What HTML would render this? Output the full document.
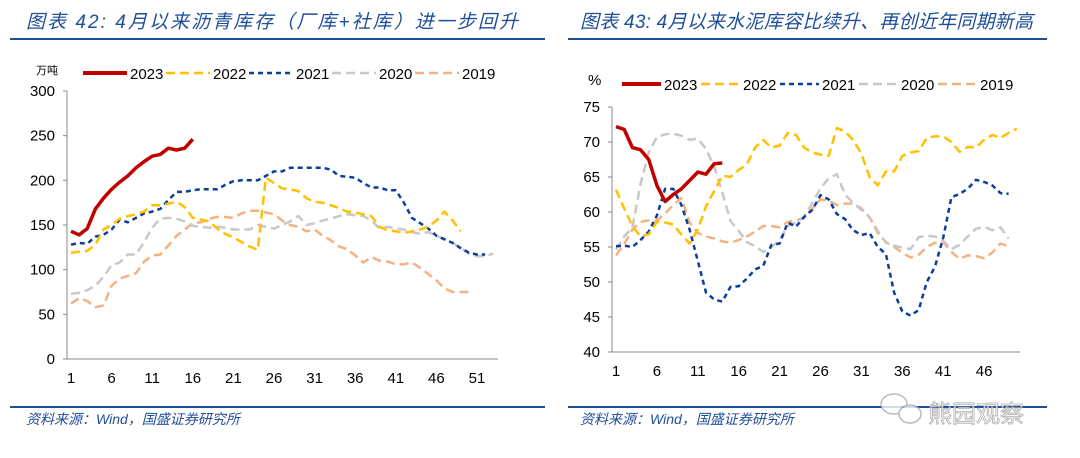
<!DOCTYPE html>
<html><head><meta charset="utf-8">
<style>
body{margin:0;background:#fff;width:1080px;height:458px;overflow:hidden;font-family:"Liberation Sans","Noto Sans CJK SC",sans-serif;}
svg{display:block}
</style></head>
<body>
<svg id="root" width="1080" height="458" xmlns="http://www.w3.org/2000/svg">
<g>
<text x="26" y="28" font-size="19" font-style="italic" fill="#1f4e9a" textLength="492" lengthAdjust="spacing">图表 42:  4月以来沥青库存（厂库+社库）进一步回升</text>
<rect x="10" y="38" width="535" height="2" fill="#1f4e9a"/>
</g>
<g>
<text x="580" y="28" font-size="19" font-style="italic" fill="#1f4e9a" textLength="453" lengthAdjust="spacing">图表 43:  4月以来水泥库容比续升、再创近年同期新高</text>
<rect x="568" y="38" width="479" height="2" fill="#1f4e9a"/>
</g>
<rect x="10" y="406" width="535" height="2" fill="#1f4e9a"/>
<rect x="568" y="406" width="479" height="2" fill="#1f4e9a"/>
<text x="26" y="424" font-size="14" font-style="italic" fill="#1f4e9a">资料来源：Wind，国盛证券研究所</text>
<text x="580" y="424" font-size="14" font-style="italic" fill="#1f4e9a">资料来源：Wind，国盛证券研究所</text>
<g opacity="0.8">
<ellipse cx="894" cy="404" rx="13" ry="10" fill="#fff" stroke="#aaa" stroke-width="1.5"/>
<ellipse cx="910" cy="414" rx="11" ry="9" fill="#fff" stroke="#aaa" stroke-width="1.5"/>
<text x="928" y="422" font-size="24" fill="#fff" stroke="#999" stroke-width="0.8">熊园观察</text>
</g>
<g id="c1"></g>
<g id="c2"></g>
</svg>
<script>
const years=["2023","2022","2021","2020","2019"];
const colors=["#c00000","#ffc000","#0b3f99","#c8c8c8","#f4b183"];
const dashes=[null,"9,5","5,4","9,5","9,5"];
const a2023=[143,139,146,168,180,190,198,205,214,221,227,229,236,234,236,246];
const a2022=[119,120,121,128,145,150,157,160,162,165,172,172,174,176,170,158,156,154,146,140,136,131,126,122,203,197,191,190,188,180,176,175,172,169,165,164,162,160,148,144,143,141,143,145,148,155,165,155,143];
const a2021=[128,130,129,137,139,145,156,153,158,163,165,168,178,187,187,189,190,190,190,195,199,200,200,200,205,210,210,214,214,214,214,214,212,205,204,203,197,192,192,189,189,175,158,152,146,138,134,130,124,119,117,117];
const a2020=[73,74,77,82,92,105,108,117,117,131,147,157,158,157,154,149,148,147,148,147,145,145,145,150,148,146,150,154,160,150,152,155,157,160,162,161,160,155,146,148,146,145,142,140,142,138,134,130,124,118,115,115,118];
const a2019=[62,68,65,58,60,82,90,93,96,109,116,117,127,138,145,152,153,157,159,159,158,163,166,166,164,162,155,150,148,143,145,138,133,126,123,116,108,114,110,109,106,106,108,102,95,88,79,75,75,75];
const aTicksY=[0,50,100,150,200,250,300];
const aTicksX=[1,6,11,16,21,26,31,36,41,46,51];
const c2023=[72.2,71.8,69.2,68.9,67.5,63.8,61.5,62.5,63.3,64.5,65.7,65.4,66.9,67.0];
const c2022=[63.2,60.5,58.0,56.5,56.8,58.6,58.5,58.2,56.8,55.5,57.5,60.8,63.0,65.2,65.0,66.0,66.8,69.2,70.3,69.2,69.5,71.3,71.0,69.2,68.5,68.2,68.0,72.0,71.5,70.3,68.3,65.0,63.8,65.8,65.8,68.0,68.5,68.7,70.6,70.8,70.8,70.0,68.6,69.3,69.2,70.3,71.0,70.6,71.3,71.9];
const c2021=[55.1,55.2,55.0,56.0,57.2,59.5,63.3,63.3,61.0,57.5,53.0,48.5,47.5,47.2,49.3,49.4,50.5,51.8,52.3,55.3,55.5,58.5,57.9,59.3,60.3,62.4,61.8,59.7,59.0,57.4,56.7,57.0,55.0,54.0,48.5,45.8,45.2,46.0,50.0,52.2,56.3,62.1,62.6,63.3,64.6,64.3,63.8,62.7,62.6];
const c2020=[54.6,56.5,57.8,64.0,68.5,70.7,71.1,71.2,70.9,70.3,70.5,69.0,66.5,62.8,58.7,57.3,55.7,55.1,54.3,55.0,56.0,58.0,58.5,59.3,61.3,63.4,64.8,65.4,62.5,61.3,60.3,59.3,57.3,55.6,55.2,54.9,54.7,56.4,56.6,56.5,55.9,54.7,55.3,56.5,57.6,57.9,57.4,57.8,56.2];
const c2019=[53.8,55.4,57.5,58.6,58.8,58.8,59.8,61.0,62.0,58.5,57.0,56.5,56.2,55.8,55.6,56.0,56.5,57.2,58.0,58.0,57.8,58.6,58.8,59.2,60.5,61.8,61.6,61.0,61.2,61.2,60.5,59.2,57.0,55.7,55.0,54.2,53.5,53.9,55.0,55.6,55.7,54.3,53.3,53.8,53.7,53.4,54.2,55.5,55.1];
const cTicksY=[40,45,50,55,60,65,70,75];
const cTicksX=[1,6,11,16,21,26,31,36,41,46];
const NS="http://www.w3.org/2000/svg";
function mk(tag,attrs,parent){const e=document.createElementNS(NS,tag);for(const k in attrs)e.setAttribute(k,attrs[k]);parent.appendChild(e);return e;}
function draw(g,cfg,series,ticksY,ticksX,prefix){
  const sx=w=>cfg.x1+(w-1)*cfg.dx;
  const sy=v=>cfg.yb-(v-cfg.ymin)/(cfg.ymax-cfg.ymin)*(cfg.yb-cfg.yt);
  const ax=mk('path',{d:`M${cfg.ax},${cfg.yt} V${cfg.yb} H${cfg.axEnd}`,stroke:'#888',fill:'none','stroke-width':1},g);
  
  
  ticksY.forEach(t=>{
    const tk=mk('line',{x1:cfg.ax-4,x2:cfg.ax,y1:sy(t),y2:sy(t),stroke:'#888'},g);
    
    
    const tx=mk('text',{x:cfg.ax-12,y:sy(t)+5,'text-anchor':'end','font-size':15,fill:'#000'},g);
    tx.textContent=t;
    
    
  });
  ticksX.forEach(t=>{
    const tx=mk('text',{x:sx(t),y:cfg.yb+24,'text-anchor':'middle','font-size':15,fill:'#000'},g);
    tx.textContent=t;
    
    
  });
  const u=mk('text',{x:cfg.unitX,y:cfg.unitY,'font-size':cfg.unitSize,fill:'#000'},g);
  u.textContent=cfg.unit;
  
  
  for(let i=series.length-1;i>=0;i--){
    const d=series[i].map((v,j)=>(j?'L':'M')+sx(j+1).toFixed(1)+','+sy(v).toFixed(1)).join(' ');
    const p=mk('path',{d:d,fill:'none',stroke:colors[i],'stroke-width':i==0?3.5:2.5,'stroke-linejoin':'round'},g);
    if(dashes[i])p.setAttribute('stroke-dasharray',dashes[i]);
    
    
  }
  years.forEach((y,i)=>{
    const lx=cfg.legX+i*cfg.legStep;
    const l=mk('line',{x1:lx,x2:lx+cfg.legLen,y1:cfg.legY,y2:cfg.legY,stroke:colors[i],'stroke-width':i==0?4:2.5},g);
    if(dashes[i])l.setAttribute('stroke-dasharray',dashes[i]);
    
    
    const t=mk('text',{x:lx+cfg.legLen+3,y:cfg.legY+6,'font-size':15,fill:'#000'},g);
    t.textContent=y;
    
    
  });
}
draw(document.getElementById('c1'),{x1:71,dx:8.12,ax:67,axEnd:498,yt:91,yb:359,ymin:0,ymax:300,unit:'万吨',unitX:36,unitY:74,unitSize:11,legX:83,legStep:83,legLen:44,legY:73},[a2023,a2022,a2021,a2020,a2019],aTicksY,aTicksX,'asphalt');
draw(document.getElementById('c2'),{x1:616,dx:8.18,ax:612,axEnd:1020,yt:107,yb:352,ymin:40,ymax:75,unit:'%',unitX:588,unitY:85,unitSize:15,legX:622,legStep:79,legLen:39,legY:84},[c2023,c2022,c2021,c2020,c2019],cTicksY,cTicksX,'cement');
</script>
</body></html>
